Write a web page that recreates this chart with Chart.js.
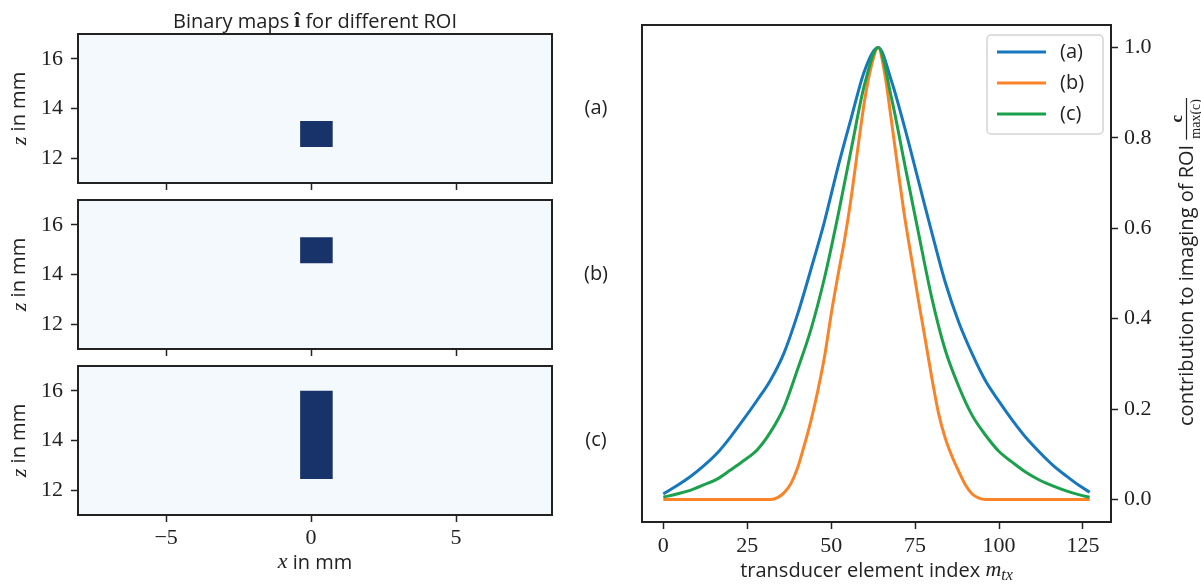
<!DOCTYPE html>
<html>
<head>
<meta charset="utf-8">
<script src="https://cdn.jsdelivr.net/npm/chart.js@4.4.0/dist/chart.umd.min.js"></script>
<style>
  html, body { margin: 0; padding: 0; background: #fff; }
  #fig { position: relative; width: 1201px; height: 585px; }
  #fig canvas { position: absolute; left: 0; top: 0; }
</style>
</head>
<body>
<div id="fig">
  <canvas id="mapA" width="1201" height="585"></canvas>
  <canvas id="mapB" width="1201" height="585"></canvas>
  <canvas id="mapC" width="1201" height="585"></canvas>
  <canvas id="contrib" width="1201" height="585"></canvas>
</div>
<script>
// transducer element index (m_tx) and normalized contribution
var idxAC = [0, 4, 8, 12, 16, 20, 24, 28, 32, 36, 40, 44, 48, 52, 56, 60, 64,
             68, 72, 76, 80, 84, 88, 92, 96, 100, 104, 108, 112, 116, 120, 124, 127];
var contribA = [0.012, 0.03, 0.05, 0.074, 0.102, 0.138, 0.178, 0.22, 0.265, 0.325, 0.41, 0.51, 0.615, 0.735, 0.845, 0.95, 1.0,
                0.925, 0.82, 0.705, 0.59, 0.48, 0.392, 0.322, 0.262, 0.217, 0.175, 0.137, 0.105, 0.076, 0.052, 0.03, 0.016];
var contribC = [0.005, 0.012, 0.02, 0.032, 0.045, 0.065, 0.086, 0.11, 0.15, 0.205, 0.288, 0.377, 0.49, 0.627, 0.776, 0.92, 1.0,
                0.887, 0.738, 0.59, 0.445, 0.33, 0.25, 0.186, 0.142, 0.106, 0.082, 0.06, 0.043, 0.03, 0.019, 0.01, 0.005];
var idxB = [0, 32, 34, 36, 38, 40, 42, 44, 46, 48, 50, 52, 54, 56, 58, 60, 62, 64,
            66, 68, 70, 72, 74, 76, 78, 80, 82, 84, 86, 88, 90, 92, 94, 96, 127];
var contribB = [0, 0, 0.004, 0.015, 0.035, 0.07, 0.12, 0.175, 0.24, 0.315, 0.41, 0.495, 0.575, 0.67, 0.78, 0.885, 0.96, 1.0,
                0.94, 0.835, 0.725, 0.62, 0.53, 0.44, 0.355, 0.268, 0.19, 0.135, 0.095, 0.062, 0.032, 0.012, 0.003, 0, 0];
var seriesNames = ['(a)', '(b)', '(c)'];
var seriesColors = ['#1677bd', '#fa8328', '#1ba14b'];
var xTicksRight = [0, 25, 50, 75, 100, 125];
var yTicksRight = [0, 0.2, 0.4, 0.6, 0.8, 1.0];

// binary maps: ROI extent in mm
var roiX = [-0.38, 0.75];
var roiZ = [[12.45, 13.5], [14.45, 15.5], [12.45, 16.0]];
var mapNames = ['(a)', '(b)', '(c)'];
var xTicksMap = [-5, 0, 5];
var zTicksMap = [12, 14, 16];

var SERIF = "'Liberation Serif', serif";
var SANS = "'Open Sans', sans-serif";
var INK = '#222';
var TXT = '20px ' + SANS;

var mapLeft = 78, mapRight = 552;
var mapTops = [34, 200, 366], mapBottoms = [183, 349, 515];

// draw a row of text pieces with different fonts, centred on (x, y)
function drawRuns(ctx, parts, x, y, angle) {
  ctx.save();
  ctx.translate(x, y);
  ctx.rotate(angle || 0);
  ctx.fillStyle = INK;
  ctx.textBaseline = 'middle';
  ctx.textAlign = 'left';
  var w = 0;
  parts.forEach(function (p) { ctx.font = p[1]; w += ctx.measureText(p[0]).width; });
  var cx = -w / 2;
  parts.forEach(function (p) {
    ctx.font = p[1];
    ctx.fillText(p[0], cx, p[2] || 0);
    cx += ctx.measureText(p[0]).width;
  });
  ctx.restore();
}

var framePlugin = {
  id: 'frame',
  afterDatasetsDraw: function (chart) {
    var a = chart.chartArea, ctx = chart.ctx;
    ctx.save();
    ctx.strokeStyle = INK;
    ctx.lineWidth = 2;
    ctx.strokeRect(a.left, a.top, a.right - a.left, a.bottom - a.top);
    ctx.restore();
  }
};

function mapPlugin(k) {
  return {
    id: 'mapText' + k,
    beforeDraw: function (chart) {
      var a = chart.chartArea, ctx = chart.ctx;
      ctx.save();
      ctx.fillStyle = '#f4f9fe';
      ctx.fillRect(a.left, a.top, a.right - a.left, a.bottom - a.top);
      ctx.restore();
    },
    afterDraw: function (chart) {
      var a = chart.chartArea, ctx = chart.ctx;
      var cy = (a.top + a.bottom) / 2, cx = (a.left + a.right) / 2;
      drawRuns(ctx, [['z', 'italic 22px ' + SERIF, 1], [' in mm', TXT]], 19, cy, -Math.PI / 2);
      drawRuns(ctx, [[mapNames[k], TXT]], a.right + 44, cy);
      if (k === 0) {
        drawRuns(ctx, [['Binary maps ', TXT], ['\u00ee', 'bold 21px ' + SERIF], [' for different ROI', TXT]], cx, a.top - 12);
      }
      if (k === 2) {
        drawRuns(ctx, [['x', 'italic 22px ' + SERIF, -1], [' in mm', TXT]], cx, 563);
      }
    }
  };
}

function mapChart(id, k) {
  var top = mapTops[k], bottom = mapBottoms[k];
  return new Chart(document.getElementById(id), {
    type: 'line',
    data: {
      datasets: [{
        data: [{ x: roiX[0], y: roiZ[k][1] }, { x: roiX[1], y: roiZ[k][1] }],
        fill: { value: roiZ[k][0] },
        backgroundColor: '#18336a',
        borderColor: 'rgba(0,0,0,0)',
        borderWidth: 0,
        pointRadius: 0
      }]
    },
    options: {
      responsive: false,
      animation: false,
      devicePixelRatio: 1,
      layout: { padding: { left: 0, top: top, right: 1201 - mapRight, bottom: 0 } },
      plugins: { legend: { display: false }, tooltip: { enabled: false } },
      scales: {
        x: {
          type: 'linear', min: -8.04, max: 8.31,
          afterBuildTicks: function (s) { s.ticks = xTicksMap.map(function (v) { return { value: v }; }); },
          afterFit: function (s) { s.height = 585 - bottom; },
          grid: { drawOnChartArea: false, tickLength: 7, tickWidth: 1.5, tickColor: INK },
          border: { display: false },
          ticks: {
            display: k === 2, color: INK, padding: 3, maxRotation: 0,
            font: { family: SERIF, size: 22 },
            callback: function (v) { return (v < 0 ? '\u2212' : '') + Math.abs(v); }
          }
        },
        y: {
          type: 'linear', min: 11, max: 17,
          afterBuildTicks: function (s) { s.ticks = zTicksMap.map(function (v) { return { value: v }; }); },
          afterFit: function (s) { s.width = mapLeft; },
          grid: { drawOnChartArea: false, tickLength: 7, tickWidth: 1.5, tickColor: INK },
          border: { display: false },
          ticks: { color: INK, padding: 8, font: { family: SERIF, size: 22 } }
        }
      }
    },
    plugins: [mapPlugin(k), framePlugin]
  });
}

mapChart('mapA', 0);
mapChart('mapB', 1);
mapChart('mapC', 2);

var contribText = {
  id: 'contribText',
  afterDraw: function (chart) {
    var a = chart.chartArea, ctx = chart.ctx;
    // x title
    drawRuns(ctx, [['transducer element index ', TXT], ['m', 'italic 22px ' + SERIF, -1], ['tx', 'italic 16px ' + SERIF, 5]],
      (a.left + a.right) / 2, 571);
    // y title with fraction c / max(c)
    ctx.save();
    ctx.translate(1186, 262);
    ctx.rotate(-Math.PI / 2);
    ctx.fillStyle = INK;
    ctx.textBaseline = 'middle';
    ctx.font = TXT;
    var t = 'contribution to imaging of ROI ';
    var tw = ctx.measureText(t).width;
    ctx.font = '14px ' + SERIF;
    var fw = ctx.measureText('max(c)').width + 2;
    var x0 = -(tw + fw) / 2;
    ctx.font = TXT;
    ctx.textAlign = 'left';
    ctx.fillText(t, x0, 1);
    ctx.textAlign = 'center';
    ctx.font = 'bold 17px ' + SERIF;
    ctx.fillText('c', x0 + tw + fw / 2, -8);
    ctx.font = '14px ' + SERIF;
    ctx.fillText('max(c)', x0 + tw + fw / 2, 10);
    ctx.strokeStyle = INK;
    ctx.lineWidth = 1.2;
    ctx.beginPath();
    ctx.moveTo(x0 + tw, 0.5);
    ctx.lineTo(x0 + tw + fw, 0.5);
    ctx.stroke();
    ctx.restore();

    // legend box in the upper right of the axes
    var w = 116, h = 99;
    var lx = a.right - 8 - w, ly = a.top + 10;
    ctx.save();
    ctx.fillStyle = 'rgba(255,255,255,0.85)';
    ctx.strokeStyle = '#d4d4d4';
    ctx.lineWidth = 1.5;
    ctx.beginPath();
    ctx.roundRect(lx, ly, w, h, 4);
    ctx.fill();
    ctx.stroke();
    chart.data.datasets.forEach(function (ds, i) {
      var yy = ly + 17 + i * 31;
      ctx.strokeStyle = ds.borderColor;
      ctx.lineWidth = 3;
      ctx.beginPath();
      ctx.moveTo(lx + 10, yy);
      ctx.lineTo(lx + 59, yy);
      ctx.stroke();
      ctx.fillStyle = INK;
      ctx.font = TXT;
      ctx.textAlign = 'left';
      ctx.textBaseline = 'middle';
      ctx.fillText(ds.label, lx + 73, yy);
    });
    ctx.restore();
  }
};

function toPoints(xs, ys) {
  return xs.map(function (m, i) { return { x: m, y: ys[i] }; });
}

new Chart(document.getElementById('contrib'), {
  type: 'line',
  data: {
    datasets: [
      { label: seriesNames[0], data: toPoints(idxAC, contribA), borderColor: seriesColors[0], order: 3 },
      { label: seriesNames[1], data: toPoints(idxB, contribB), borderColor: seriesColors[1], order: 2 },
      { label: seriesNames[2], data: toPoints(idxAC, contribC), borderColor: seriesColors[2], order: 1 }
    ]
  },
  options: {
    responsive: false,
    animation: false,
    devicePixelRatio: 1,
    layout: { padding: { left: 642, top: 25, right: 0, bottom: 0 } },
    elements: {
      point: { radius: 0 },
      line: { borderWidth: 3, cubicInterpolationMode: 'monotone', fill: false }
    },
    plugins: { legend: { display: false }, tooltip: { enabled: false } },
    scales: {
      x: {
        type: 'linear', min: -6.35, max: 133.35,
        afterBuildTicks: function (s) { s.ticks = xTicksRight.map(function (v) { return { value: v }; }); },
        afterFit: function (s) { s.height = 63; },
        grid: { drawOnChartArea: false, tickLength: 7, tickWidth: 1.5, tickColor: INK },
        border: { display: false },
        ticks: { color: INK, padding: 4, maxRotation: 0, font: { family: SERIF, size: 22 } }
      },
      y: {
        type: 'linear', position: 'right', min: -0.05, max: 1.05,
        afterBuildTicks: function (s) { s.ticks = yTicksRight.map(function (v) { return { value: v }; }); },
        afterFit: function (s) { s.width = 90; },
        grid: { drawOnChartArea: false, tickLength: 7, tickWidth: 1.5, tickColor: INK },
        border: { display: false },
        ticks: {
          color: INK, padding: 6, font: { family: SERIF, size: 22 },
          callback: function (v) { return v.toFixed(1); }
        }
      }
    }
  },
  plugins: [framePlugin, contribText]
});
</script>
</body>
</html>
